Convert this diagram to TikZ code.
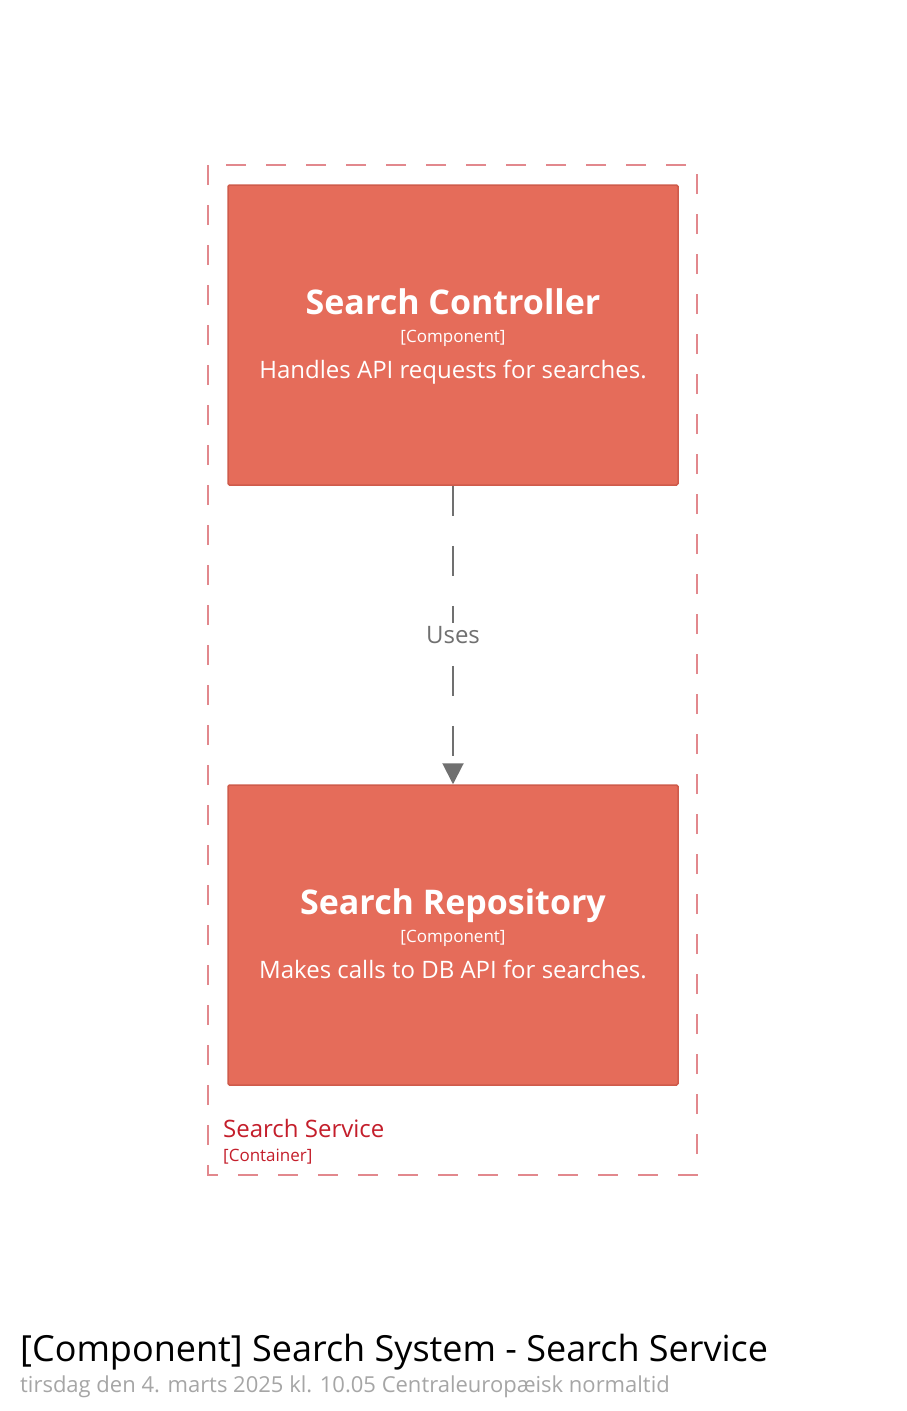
\documentclass[tikz,border=0pt]{standalone}
\usepackage{fontspec}
\setmainfont{Open Sans}
\usetikzlibrary{arrows.meta}
\usetikzlibrary{positioning}
\usetikzlibrary{calc}
\definecolor{compfill}{HTML}{E56C5A}
\definecolor{compline}{HTML}{CF5B4B}
\definecolor{bndline}{HTML}{E2888D}
\definecolor{bndtext}{HTML}{C41E2B}
\definecolor{relgray}{HTML}{707070}
\definecolor{dategray}{HTML}{A6A6A6}
\tikzset{component/.style = {draw=compline, fill=compfill, line width=1.5pt, rounded corners=1.5pt,
                             minimum width=450pt, minimum height=300pt, inner sep=0}}
\tikzset{compname/.style = {anchor=base, inner sep=0, text=white,
                            font=\fontsize{34}{40}\selectfont\bfseries}}
\tikzset{comptype/.style = {anchor=base, inner sep=0, text=white,
                            font=\fontsize{17}{20}\selectfont}}
\tikzset{compdesc/.style = {anchor=base, inner sep=0, text=white,
                            font=\fontsize{24}{28}\selectfont}}
\tikzset{boundary/.style = {draw=bndline, line width=2pt, dash pattern=on 20pt off 20pt}}
\tikzset{uses/.style = {draw=relgray, line width=2pt, dash pattern=on 30pt off 30pt,
                        -{Triangle[width=21pt,length=21pt]}}}

\begin{document}
\begin{tikzpicture}[x=1pt, y=-1pt]
    \useasboundingbox [fill=white] (0, 0) rectangle (907, 1411);

    % container boundary
    \draw [boundary] (208, 165) rectangle (697, 1175);
    \node (svcname) [anchor=base west, text=bndtext, font=\fontsize{24}{28}\selectfont,
                     inner sep=0] at (223, 1137) {Search Service};
    \node (svctype) [anchor=base west, text=bndtext, font=\fontsize{17}{20}\selectfont,
                     inner sep=0] at (223, 1161) {[Container]};

    % components
    \node (ctrl) [component] at (453, 335) {};
    \node (ctrlname) [compname] at ($(ctrl.center) + (0, -21)$) {Search Controller};
    \node (ctrltype) [comptype] at ($(ctrl.center) + (0, 7)$) {[Component]};
    \node (ctrldesc) [compdesc] at ($(ctrl.center) + (0, 43)$) {Handles API requests for searches.};

    \node (repo) [component] at (453, 935) {};
    \node (reponame) [compname] at ($(repo.center) + (0, -21)$) {Search Repository};
    \node (repotype) [comptype] at ($(repo.center) + (0, 7)$) {[Component]};
    \node (repodesc) [compdesc] at ($(repo.center) + (0, 43)$) {Makes calls to DB API for searches.};

    \draw [uses] (ctrl) -- node [fill=white, text=relgray, inner sep=3pt,
                                 font=\fontsize{24}{28}\selectfont] (uses) {Uses} (repo);

    % title
    \node (title) [anchor=base west, inner sep=0, font=\fontsize{36}{40}\selectfont]
      at (20, 1361) {[Component] Search System - Search Service};
    \node (date) [anchor=base west, inner sep=0, text=dategray, font=\fontsize{22}{24}\selectfont]
      at (20, 1392) {tirsdag den 4. marts 2025 kl. 10.05 Centraleuropæisk normaltid};
\end{tikzpicture}
\end{document}
